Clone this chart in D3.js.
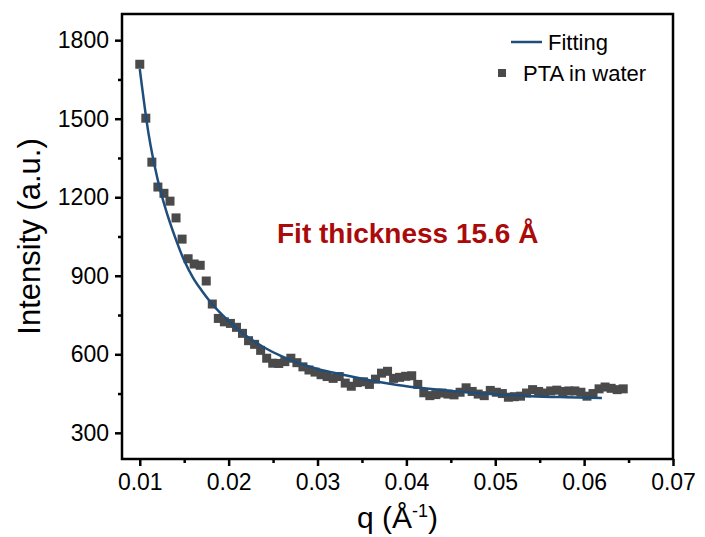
<!DOCTYPE html>
<html>
<head>
<meta charset="utf-8">
<script src="https://cdn.jsdelivr.net/npm/d3@7"></script>
<style>
  body { margin: 0; background: #fff; }
  text { font-family: "Liberation Sans", Arial, sans-serif; }
</style>
</head>
<body>
<div id="chart"></div>
<script>
// measured data (PTA in water)
const qData = [0.0100, 0.01068, 0.01136, 0.01204, 0.01272, 0.0134, 0.01408, 0.01476, 0.01544, 0.01612,
  0.0168, 0.01748, 0.01816, 0.01884, 0.01952, 0.0202, 0.02088, 0.02156, 0.02224, 0.02292,
  0.0236, 0.02428, 0.02496, 0.02564, 0.02632, 0.027, 0.02768, 0.02836, 0.02904, 0.02972,
  0.0304, 0.03108, 0.03176, 0.03244, 0.03312, 0.0338, 0.03448, 0.03516, 0.03584, 0.03652,
  0.0372, 0.03788, 0.03856, 0.03924, 0.03992, 0.0406, 0.04128, 0.04196, 0.04264, 0.04332,
  0.044, 0.04468, 0.04536, 0.04604, 0.04672, 0.0474, 0.04808, 0.04876, 0.04944, 0.05012,
  0.0508, 0.05148, 0.05216, 0.05284, 0.05352, 0.0542, 0.05488, 0.05556, 0.05624, 0.05692,
  0.0576, 0.05828, 0.05896, 0.05964, 0.06032, 0.061, 0.06168, 0.06236, 0.06304, 0.06372, 0.0644];
const intensity = [1708, 1502, 1334, 1239, 1215, 1185, 1121, 1040, 965, 945,
  940, 880, 792, 737, 724, 718, 703, 680, 652, 638,
  615, 585, 566, 565, 572, 585, 568, 552, 540, 532,
  522, 515, 508, 515, 490, 478, 492, 495, 485, 505,
  528, 535, 508, 512, 516, 518, 485, 453, 442, 446,
  452, 448, 445, 455, 472, 458, 448, 442, 462, 455,
  450, 436, 438, 440, 452, 465, 458, 452, 460, 463,
  458, 460, 460, 455, 440, 450, 468, 475, 470, 465, 468];

// fitted curve
const qFit = [0.0100, 0.0110, 0.0120, 0.0130, 0.0140, 0.0150, 0.0160, 0.0170, 0.0180, 0.0190,
  0.0200, 0.0220, 0.0240, 0.0260, 0.0280, 0.0300, 0.0330, 0.0360, 0.0390, 0.0420,
  0.0460, 0.0500, 0.0540, 0.0580, 0.0620];
const iFit = [1690, 1440, 1270, 1145, 1045, 958, 892, 842, 798, 760,
  727, 670, 626, 592, 565, 544, 521, 500, 483, 470,
  457, 447, 440, 436, 433];

const xTicks = [0.01, 0.02, 0.03, 0.04, 0.05, 0.06, 0.07];
const xMinor = [0.015, 0.025, 0.035, 0.045, 0.055, 0.065];
const yTicks = [300, 600, 900, 1200, 1500, 1800];
const yMinor = [450, 750, 1050, 1350, 1650];

const W = 705, H = 537;
const margin = {top: 14, right: 32, bottom: 78, left: 122},
    width = W - margin.left - margin.right,
    height = H - margin.top - margin.bottom;

const svg = d3.select("#chart")
  .append("svg")
    .attr("width", W)
    .attr("height", H)
  .append("g")
    .attr("transform", `translate(${margin.left}, ${margin.top})`);

const x = d3.scaleLinear().domain([0.008, 0.07]).range([0, width]);
const y = d3.scaleLinear().domain([200, 1900]).range([height, 0]);

// frame
svg.append("rect")
  .attr("width", width).attr("height", height)
  .attr("fill", "none").attr("stroke", "#000").attr("stroke-width", 2.5);

// X axis
svg.append("g")
  .attr("transform", `translate(0, ${height})`)
  .call(d3.axisBottom(x).tickValues(xTicks).tickFormat(d3.format(".2f")).tickSize(7).tickPadding(8));
svg.append("g")
  .attr("transform", `translate(0, ${height})`)
  .call(d3.axisBottom(x).tickValues(xMinor).tickFormat("").tickSize(4));

// Y axis
svg.append("g")
  .call(d3.axisLeft(y).tickValues(yTicks).tickFormat(d3.format("d")).tickSize(7).tickPadding(6));
svg.append("g")
  .call(d3.axisLeft(y).tickValues(yMinor).tickFormat("").tickSize(4));

svg.selectAll(".domain").remove();
svg.selectAll(".tick line").attr("stroke", "#000").attr("stroke-width", 2.5);
svg.selectAll(".tick text")
  .attr("fill", "#000")
  .style("font-size", "23px")
  .style("font-family", "'Liberation Sans', Arial, sans-serif");

// axis titles
svg.append("text")
  .attr("transform", `translate(-82, ${height / 2}) rotate(-90)`)
  .attr("text-anchor", "middle")
  .style("font-size", "31px")
  .text("Intensity (a.u.)");

const xt = svg.append("text")
  .attr("x", width / 2)
  .attr("y", height + 69)
  .attr("text-anchor", "middle")
  .style("font-size", "30px");
xt.append("tspan").text("q (Å");
xt.append("tspan").attr("dy", -11).style("font-size", "18px").text("-1");
xt.append("tspan").attr("dy", 11).text(")");

// data points
svg.selectAll("rect.pt")
  .data(qData)
  .join("rect")
    .attr("class", "pt")
    .attr("x", (d) => x(d) - 4.5)
    .attr("y", (d, i) => y(intensity[i]) - 4.5)
    .attr("width", 9)
    .attr("height", 9)
    .attr("fill", "#4a4a4a");

// fit line
const line = d3.line()
  .x((d) => x(d))
  .y((d, i) => y(iFit[i]))
  .curve(d3.curveMonotoneX);
svg.append("path")
  .datum(qFit)
  .attr("d", line)
  .attr("fill", "none")
  .attr("stroke", "#1f4e7a")
  .attr("stroke-width", 2.5);

// annotation
svg.append("text")
  .attr("x", 155)
  .attr("y", 229)
  .attr("fill", "#ab0a0a")
  .style("font-size", "28px")
  .style("font-weight", "bold")
  .text("Fit thickness 15.6 Å");

// legend
const lg = svg.append("g").attr("transform", "translate(389, 28)");
lg.append("line")
  .attr("x1", 0).attr("x2", 31).attr("y1", 0).attr("y2", 0)
  .attr("stroke", "#1f4e7a").attr("stroke-width", 2.5);
lg.append("text")
  .attr("x", 37).attr("y", 8)
  .style("font-size", "22px")
  .text("Fitting");
lg.append("rect")
  .attr("x", -13).attr("y", 27).attr("width", 8).attr("height", 8)
  .attr("fill", "#4a4a4a");
lg.append("text")
  .attr("x", 12).attr("y", 39)
  .style("font-size", "22px")
  .text("PTA in water");
</script>
</body>
</html>
